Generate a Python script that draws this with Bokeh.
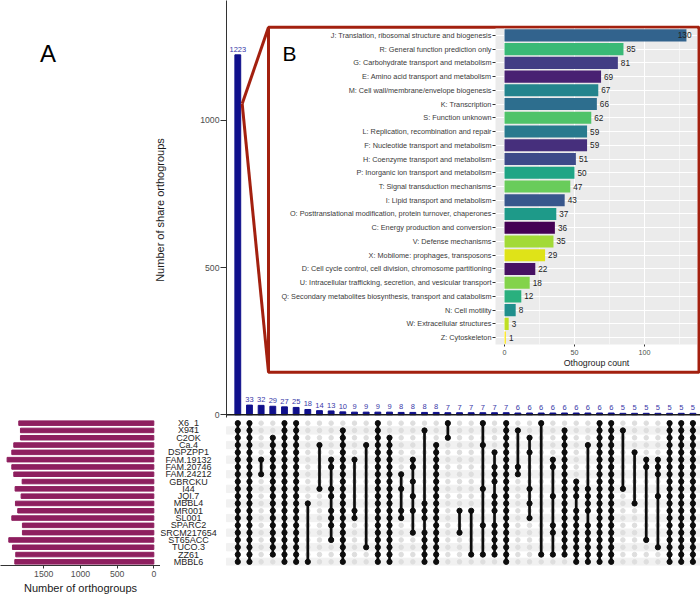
from bokeh.plotting import figure
from bokeh.layouts import column, row
from bokeh.models import Range1d, FactorRange, FixedTicker, Span, GridBox
from bokeh.palettes import viridis
from bokeh.core.properties import value
from bokeh.embed import file_html
from bokeh.resources import INLINE

# ---------------- data ----------------
genomes = ["X6_1", "X941", "C2OK", "Ca.4", "DSPZPP1", "FAM.19132", "FAM.20746",
           "FAM.24212", "GBRCKU", "I44", "JQI.7", "MBBL4", "MR001", "SL001",
           "SPARC2", "SRCM217654", "ST65ACC", "TUCO.3", "ZZ61", "MBBL6"]
genome_orthogroups = [1841, 1818, 1818, 1909, 1936, 2000, 1936, 1909, 1795, 1891,
                      1809, 1886, 1855, 1936, 1791, 1791, 1977, 1927, 1882, 1895]

intersection_sizes = [1223, 33, 32, 29, 27, 25, 18, 14, 13, 10,
                      9, 9, 9, 9, 8, 8, 8, 8, 7, 7,
                      7, 7, 7, 7, 6, 6, 6, 6, 6, 6,
                      6, 6, 6, 5, 5, 5, 5, 5, 5, 5]
ALL = list(range(20))
intersection_members = [
    ALL, ALL, [5, 7], list(range(2, 19)), ALL, ALL, [11, 19], [3, 9],
    [5, 6, 9, 10, 12, 13, 14, 16], list(range(1, 20)),
    [5, 12, 13], [3, 17], ALL, list(range(2, 20)), [7, 9, 12, 13],
    [5, 6, 8, 10, 12, 15], [1, 11, 12, 13, 15, 16, 17, 18, 19], list(range(3, 20)),
    [0, 2], [12, 15],
    [12, 18], [0, 3, 9, 14, 18], [4, 6, 7, 8, 10, 11, 12, 14, 15, 16, 17, 18], ALL,
    [1, 6, 7], [2, 4, 9, 11, 13], [0, 18], [5, 6, 10, 14, 15, 18], list(range(1, 19)),
    [8, 9, 10, 12, 13, 14, 15, 16, 17, 18, 19],
    [3, 9, 10, 11, 12, 14, 15, 16, 17, 18, 19], ALL, ALL, [1, 9], [4, 11], [5, 6, 16],
    [5, 6, 7, 10, 17], ALL, ALL, ALL]

cog_categories = [
    "J: Translation, ribosomal structure and biogenesis",
    "R: General function prediction only",
    "G: Carbohydrate transport and metabolism",
    "E: Amino acid transport and metabolism",
    "M: Cell wall/membrane/envelope biogenesis",
    "K: Transcription",
    "S: Function unknown",
    "L: Replication, recombination and repair",
    "F: Nucleotide transport and metabolism",
    "H: Coenzyme transport and metabolism",
    "P: Inorganic ion transport and metabolism",
    "T: Signal transduction mechanisms",
    "I: Lipid transport and metabolism",
    "O: Posttranslational modification, protein turnover, chaperones",
    "C: Energy production and conversion",
    "V: Defense mechanisms",
    "X: Mobilome: prophages, transposons",
    "D: Cell cycle control, cell division, chromosome partitioning",
    "U: Intracellular trafficking, secretion, and vesicular transport",
    "Q: Secondary metabolites biosynthesis, transport and catabolism",
    "N: Cell motility",
    "W: Extracellular structures",
    "Z: Cytoskeleton",
]
cog_counts = [130, 85, 81, 69, 67, 66, 62, 59, 59, 51, 50, 47, 43, 37, 36, 35, 29,
              22, 18, 12, 8, 3, 1]

share_ticks = [0, 500, 1000]
total_ticks = [0, 500, 1000, 1500]
cog_ticks = [0, 50, 100]
cog_minor_ticks = [25, 75, 125]
panel_tags = ["A", "B"]

# ---------------- styles ----------------
FONT = "Liberation Sans"
NAVY = "#10108C"
NAVY_TXT = "#3838A8"
MAGENTA = "#8E1F5F"
RED = "#A3200F"
TICK_TXT = "#4D4D4D"
DARK = "#1A1A1A"

letters = sorted(c[0] for c in cog_categories)
pal = viridis(len(letters))
cog_colors = [pal[letters.index(c[0])] for c in cog_categories]


def bare(fig):
    fig.outline_line_color = None
    fig.grid.visible = False
    return fig


# ---------------- layout (page pixels) ----------------
PAGE_W = 700
TAG_W = 146          # column holding the "A" tag
TOP_H = 419          # top chart height (frame bottom just below zero line)
FRAME_L = 226        # x of the top chart / matrix frame left edge
IN_X, IN_Y, IN_W, IN_H = 270, 28, 427, 342

# ---------------- top bar chart (intersection sizes) ----------------
cols = list(range(len(intersection_sizes)))
XR = (-0.968, 39.65)
YR = (-16.0, 1407.7)
tc = bare(figure(width=PAGE_W - TAG_W, height=TOP_H, x_range=Range1d(*XR),
                 y_range=Range1d(*YR), x_axis_location=None, output_backend="svg",
                 toolbar_location=None, min_border_left=FRAME_L - TAG_W,
                 min_border_right=0, min_border_top=0, min_border_bottom=0))
ya = tc.yaxis[0]
ya.ticker = FixedTicker(ticks=share_ticks, minor_ticks=[])
ya.bounds = (-8, YR[1])
ya.axis_line_color = "#333333"
ya.major_tick_line_color = "#333333"
ya.major_tick_out = 6
ya.major_tick_in = 0
ya.minor_tick_line_color = None
ya.major_label_text_font = FONT
ya.major_label_text_font_size = "8.7px"
ya.major_label_text_color = TICK_TXT
ya.major_label_standoff = 1
ya.axis_label = "Number of share orthogroups"
ya.axis_label_text_font = FONT
ya.axis_label_text_font_size = "11px"
ya.axis_label_text_font_style = "normal"
ya.axis_label_text_color = DARK
ya.axis_label_standoff = 31

tc.vbar(x=cols, top=intersection_sizes, width=0.5, color=NAVY)
tc.text(x=cols, y=intersection_sizes, text=[str(v) for v in intersection_sizes],
        text_align="center", text_baseline="bottom", y_offset=-3,
        text_font=value(FONT), text_font_size="7.5px", text_color=NAVY_TXT)
tc.add_layout(Span(location=0, dimension="width", line_color=DARK, line_width=1.6))

PX_PER_COL = (PAGE_W - FRAME_L) / (XR[1] - XR[0])
PX_PER_Y = TOP_H / (YR[1] - YR[0])


def xd(px):
    return XR[0] + (px - FRAME_L) / PX_PER_COL


def yd(py):
    return YR[1] - py / PX_PER_Y


# inset frame + connector lines (decoration placed from page pixels)
fl, fr, ft, fb = xd(IN_X - 2), xd(IN_X + IN_W + 1.5), yd(IN_Y - 1.3), yd(IN_Y + IN_H + 1.7)
apex_x, apex_y = xd(241.7), yd(103.3)
tc.quad(left=[fl], right=[fr], top=[ft], bottom=[fb], fill_color=None,
        line_color=RED, line_width=3)
tc.segment(x0=[apex_x, apex_x], y0=[apex_y, apex_y], x1=[fl, fl], y1=[ft, fb],
           line_color=RED, line_width=3)
# panel tag "B" (shows through the transparent border of the inset)
tc.text(x=[xd(289)], y=[yd(52.7)], text=[panel_tags[1]], text_align="center",
        text_baseline="alphabetic", text_font=value(FONT), text_font_size="21px",
        text_color="black")

# ---------------- inset (COG categories) ----------------
ins = figure(width=IN_W, height=IN_H, x_range=Range1d(-6.43, 137.9),
             y_range=FactorRange(factors=list(reversed(cog_categories))),
             output_backend="svg", toolbar_location=None,
             min_border_left=225, min_border_right=0, min_border_top=0,
             min_border_bottom=18, background_fill_color="#EBEBEB",
             border_fill_alpha=0)
ins.outline_line_color = None
ins.xgrid.grid_line_color = "white"
ins.xgrid.grid_line_width = 1
ins.xgrid.minor_grid_line_color = "white"
ins.xgrid.minor_grid_line_width = 0.5
ins.ygrid.grid_line_color = "white"
ins.ygrid.grid_line_width = 1
ins.hbar(y=cog_categories, left=0, right=cog_counts, height=0.88,
         fill_color=cog_colors, line_color=None)
big = [(c, v) for c, v in zip(cog_categories, cog_counts) if v > 0.9 * max(cog_counts)]
small = [(c, v) for c, v in zip(cog_categories, cog_counts) if v <= 0.9 * max(cog_counts)]
ins.text(x=[v for _, v in small], y=[c for c, _ in small], text=[str(v) for _, v in small],
         text_align="left", text_baseline="middle", x_offset=3,
         text_font=value(FONT), text_font_size="8.2px", text_color="#222222")
ins.text(x=[v for _, v in big], y=[c for c, _ in big], text=[str(v) for _, v in big],
         text_align="right", text_baseline="middle", x_offset=5,
         text_font=value(FONT), text_font_size="8.2px", text_color="#222222")
iy = ins.yaxis[0]
iy.axis_line_color = None
iy.major_tick_line_color = "#333333"
iy.major_tick_out = 3
iy.major_tick_in = 0
iy.major_label_standoff = 1
iy.major_label_text_font = FONT
iy.major_label_text_font_size = "7.3px"
iy.major_label_text_color = "#3A3A3A"
ix = ins.xaxis[0]
ix.ticker = FixedTicker(ticks=cog_ticks, minor_ticks=cog_minor_ticks)
ix.axis_line_color = None
ix.major_tick_line_color = "#333333"
ix.major_tick_out = 2
ix.major_tick_in = 0
ix.minor_tick_line_color = None
ix.major_label_standoff = 1
ix.major_label_text_font = FONT
ix.major_label_text_font_size = "7.2px"
ix.major_label_text_color = TICK_TXT
ix.axis_label = "Othogroup count"
ix.axis_label_text_font = FONT
ix.axis_label_text_font_size = "8.8px"
ix.axis_label_text_font_style = "normal"
ix.axis_label_text_color = DARK
ix.axis_label_standoff = 0

# ---------------- panel tag "A" (its own column) ----------------
tagA = bare(figure(width=TAG_W, height=TOP_H, x_range=Range1d(0, TAG_W),
                   y_range=Range1d(0, TOP_H), x_axis_location=None,
                   y_axis_location=None, output_backend="svg", toolbar_location=None,
                   min_border=0))
tagA.text(x=[47.5], y=[TOP_H - 52.7], text=[panel_tags[0]], text_align="center",
          text_baseline="alphabetic", text_font=value(FONT), text_font_size="24px",
          text_color="black")

top = GridBox(children=[(tagA, 0, 0, 3, 1), (tc, 0, 1, 3, 3), (ins, 1, 2, 1, 1)],
              rows=[f"{IN_Y}px", f"{IN_H}px", f"{TOP_H - IN_Y - IN_H}px"],
              cols=[f"{TAG_W}px", f"{IN_X - TAG_W}px", f"{IN_W}px",
                    f"{PAGE_W - IN_X - IN_W}px"], spacing=0)

# ---------------- bottom: left bars + matrix ----------------
BOT_H = 596 - TOP_H
BOT_BB = 30
LB_W = 160
rows_rev = list(reversed(genomes))

lb = bare(figure(width=LB_W, height=BOT_H, x_range=Range1d(2090, -91),
                 y_range=FactorRange(factors=rows_rev), y_axis_location=None,
                 output_backend="svg", toolbar_location=None,
                 min_border_left=0, min_border_right=0, min_border_top=0,
                 min_border_bottom=BOT_BB))
lb.hbar(y=genomes, left=0, right=genome_orthogroups, height=0.62, color=MAGENTA)
lx = lb.xaxis[0]
lx.ticker = FixedTicker(ticks=total_ticks, minor_ticks=[])
lx.axis_line_color = "#333333"
lx.major_tick_line_color = "#333333"
lx.major_tick_out = 3
lx.major_tick_in = 0
lx.major_label_standoff = 2
lx.major_label_text_font = FONT
lx.major_label_text_font_size = "8.7px"
lx.major_label_text_color = TICK_TXT
lx.axis_label = "Number of orthogroups"
lx.axis_label_text_font = FONT
lx.axis_label_text_font_size = "11px"
lx.axis_label_text_font_style = "normal"
lx.axis_label_text_color = DARK
lx.axis_label_standoff = 2

MX_W = PAGE_W - LB_W
mx_start = XR[0] - (FRAME_L - LB_W) / PX_PER_COL
names_x = XR[0] - (FRAME_L - 188) / PX_PER_COL
mx = bare(figure(width=MX_W, height=BOT_H, x_range=Range1d(mx_start, XR[1]),
                 y_range=FactorRange(factors=rows_rev), x_axis_location=None,
                 y_axis_location=None, output_backend="svg", toolbar_location=None,
                 min_border_left=0, min_border_right=0, min_border_top=0,
                 min_border_bottom=BOT_BB))
striped = [g for i, g in enumerate(genomes) if i % 2 == 1]
mx.hbar(y=striped, left=XR[0], right=XR[1], height=1, color="#F1F1F1")
gx = [c for c in cols for _ in genomes]
gy = [g for _ in cols for g in genomes]
mx.scatter(x=gx, y=gy, size=4.5, color="#DEDEDE")
sx0, sy0, sy1 = [], [], []
for c, mem in zip(cols, intersection_members):
    if len(mem) > 1:
        sx0.append(c)
        sy0.append(genomes[min(mem)])
        sy1.append(genomes[max(mem)])
mx.segment(x0=sx0, y0=sy0, x1=sx0, y1=sy1, line_color="#0D0D0D", line_width=2.7)
ax_, ay_ = [], []
for c, mem in zip(cols, intersection_members):
    for r in mem:
        ax_.append(c)
        ay_.append(genomes[r])
mx.scatter(x=ax_, y=ay_, size=5.2, color="#0D0D0D")
mx.text(x=[names_x] * len(genomes), y=genomes, text=genomes, text_align="center",
        text_baseline="middle", text_font=value(FONT), text_font_size="9px",
        text_color="#262626")

root = column(top, row(lb, mx, spacing=0), spacing=0)

open("out.html", "w").write(file_html(root, INLINE))
